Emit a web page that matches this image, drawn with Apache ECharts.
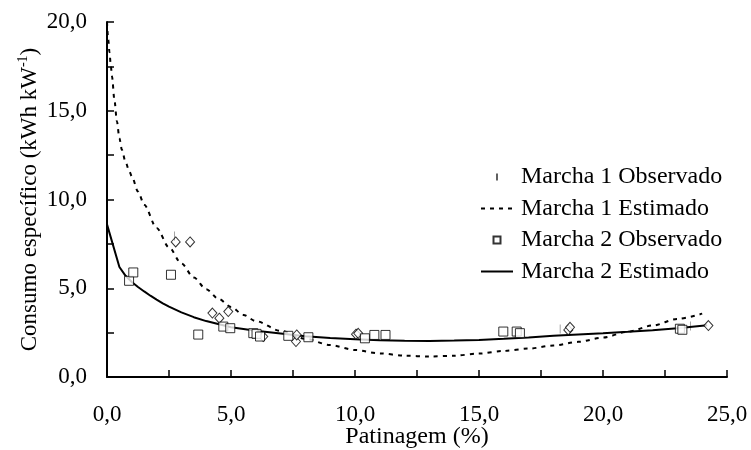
<!DOCTYPE html>
<html><head><meta charset="utf-8">
<script src="https://cdn.jsdelivr.net/npm/echarts@6/dist/echarts.min.js"></script>
<style>html,body{margin:0;padding:0;background:#fff}#c{width:751px;height:450px}</style>
</head><body><div id="c"></div>
<script>
// ---- data ----
const seriesNames = ['Marcha 1 Observado', 'Marcha 1 Estimado', 'Marcha 2 Observado', 'Marcha 2 Estimado'];
const xTickLabels = ['0,0', '5,0', '10,0', '15,0', '20,0', '25,0'];
const yTickLabels = ['0,0', '5,0', '10,0', '15,0', '20,0'];

// Marcha 1 observed: vertical-bar markers
const m1ObsBars = [[2.72, 7.95], [18.27, 2.7], [23.53, 2.88]];
// Marcha 1 observed: diamond points
const m1ObsDiamonds = [[2.77, 7.61], [3.35, 7.61], [4.25, 3.6], [4.53, 3.31], [4.89, 3.69], [6.3, 2.28],
  [7.62, 2.0], [7.65, 2.37], [10.04, 2.41], [10.13, 2.46], [18.6, 2.65], [18.67, 2.8], [24.25, 2.9]];
// Marcha 2 observed: squares
const m2Obs = [[0.89, 5.42], [1.06, 5.89], [2.58, 5.76], [3.68, 2.39], [4.69, 2.84], [4.97, 2.75], [5.9, 2.47],
  [6.03, 2.43], [6.17, 2.28], [7.31, 2.32], [8.12, 2.24], [10.4, 2.18], [10.78, 2.37], [11.23, 2.37],
  [15.98, 2.56], [16.52, 2.56], [16.65, 2.47], [23.1, 2.72], [23.2, 2.66]];
// Marcha 1 estimated (dashed)
const m1EstX = [0, 0.05, 0.1, 0.15, 0.2, 0.3, 0.4, 0.5, 0.6, 0.75, 0.9, 1, 1.25, 1.5, 2, 2.5, 3, 3.5, 4, 4.5, 5, 5.5, 6, 7, 8, 9, 10, 11, 12, 13, 14, 15, 16, 17, 18, 19, 20, 21, 22, 23, 24];
const m1EstY = [20.0, 19.0, 18.3, 17.6, 16.95, 15.6, 14.4, 13.45, 12.8, 12.1, 11.6, 11.3, 10.45, 9.7, 8.4, 7.3, 6.4, 5.6, 4.95, 4.4, 3.95, 3.5, 3.15, 2.6, 2.15, 1.8, 1.52, 1.33, 1.2, 1.15, 1.2, 1.32, 1.47, 1.6, 1.77, 1.98, 2.22, 2.55, 2.9, 3.27, 3.57];
// Marcha 2 estimated (solid)
const m2EstX = [0, 0.5, 0.75, 1, 1.25, 1.5, 1.75, 2, 2.25, 2.5, 3, 3.5, 4, 5, 6, 7, 8, 9, 10, 11, 12, 13, 14, 15, 16, 17, 18, 19, 20, 21, 22, 23, 24.2];
const m2EstY = [8.6, 6.2, 5.7, 5.35, 5.07, 4.82, 4.58, 4.36, 4.15, 3.96, 3.64, 3.37, 3.15, 2.8, 2.6, 2.45, 2.3, 2.2, 2.12, 2.07, 2.04, 2.03, 2.05, 2.09, 2.15, 2.23, 2.32, 2.4, 2.47, 2.55, 2.64, 2.74, 2.92];

const FONT = '"Liberation Serif", "Times New Roman", serif';
const FS = 23;
const zip = (xs, ys) => xs.map((x, i) => [x, ys[i]]);
const labelFor = (labels, step) => v => {
  const k = Math.round(v / step);
  return (Math.abs(v - k * step) < 1e-6 && labels[k] !== undefined) ? labels[k] : '';
};
const hiddenSymbol = {opacity: 0};

const chart = echarts.init(document.getElementById('c'), null, {renderer: 'canvas'});
chart.setOption({
  animation: false,
  backgroundColor: '#fff',
  textStyle: {fontFamily: FONT, color: '#000'},
  grid: {left: 107, right: 24, top: 22, bottom: 73, outerBoundsMode: 'none', containLabel: false},
  legend: {
    orient: 'vertical', left: 480, top: 165, itemGap: 7.5, padding: 0,
    itemWidth: 32, itemHeight: 7,
    data: [
      {name: seriesNames[0]},
      {name: seriesNames[1], itemStyle: hiddenSymbol},
      {name: seriesNames[2]},
      {name: seriesNames[3], itemStyle: hiddenSymbol}
    ],
    textStyle: {fontFamily: FONT, fontSize: 24, color: '#000', padding: [0, 0, 0, 3]}
  },
  xAxis: {
    type: 'value', min: 0, max: 25, interval: 2.5,
    axisLine: {show: true, lineStyle: {color: '#000', width: 2}},
    axisTick: {show: true, inside: true, length: 7, lineStyle: {color: '#000', width: 1.5}},
    splitLine: {show: false},
    axisLabel: {formatter: labelFor(xTickLabels, 5), color: '#000', fontFamily: FONT, fontSize: FS, margin: 26},
    name: 'Patinagem (%)', nameLocation: 'middle', nameGap: 48, nameMoveOverlap: false,
    nameTextStyle: {fontFamily: FONT, fontSize: 24, color: '#000'}
  },
  yAxis: {
    type: 'value', min: 0, max: 20, interval: 2.5,
    axisLine: {show: true, lineStyle: {color: '#000', width: 2}},
    axisTick: {show: true, inside: true, length: 7, lineStyle: {color: '#000', width: 1.5}},
    splitLine: {show: false},
    axisLabel: {formatter: labelFor(yTickLabels, 5), color: '#000', fontFamily: FONT, fontSize: FS, margin: 20},
    name: '{n|Consumo específico (kWh kW}{s|-1}{n|)}', nameLocation: 'middle', nameGap: 63, nameRotate: 90,
    nameMoveOverlap: false,
    nameTextStyle: {
      fontFamily: FONT, color: '#000',
      rich: {
        n: {fontFamily: FONT, fontSize: FS, lineHeight: 28, color: '#000'},
        s: {fontFamily: FONT, fontSize: 14, lineHeight: 28, verticalAlign: 'top', color: '#000'}
      }
    }
  },
  series: [
    {
      name: seriesNames[0], type: 'scatter', data: m1ObsBars, z: 5,
      symbol: 'path://M0,0L2,0L2,9L0,9Z', symbolSize: [2, 9], symbolKeepAspect: true,
      itemStyle: {color: '#000'}
    },
    {
      name: seriesNames[1], type: 'line', data: zip(m1EstX, m1EstY), z: 2,
      symbol: 'none', showSymbol: false, smooth: 0.3, smoothMonotone: 'x',
      lineStyle: {color: '#000', width: 2, type: [4, 5]}, itemStyle: {color: '#000'}
    },
    {
      name: seriesNames[2], type: 'scatter', data: m2Obs, z: 4,
      symbol: 'path://M0,0L10,0L10,10L0,10Z', symbolSize: 9, symbolKeepAspect: true,
      itemStyle: {color: '#fff', borderColor: '#000', borderWidth: 1}
    },
    {
      name: seriesNames[3], type: 'line', data: zip(m2EstX, m2EstY), z: 2,
      symbol: 'none', showSymbol: false, smooth: false,
      lineStyle: {color: '#000', width: 2, type: 'solid'}, itemStyle: {color: '#000'}
    },
    {
      name: 'Marcha 1 Observado (pontos)', type: 'scatter', data: m1ObsDiamonds, z: 3,
      symbol: 'diamond', symbolSize: [9, 10],
      itemStyle: {color: '#fff', borderColor: '#000', borderWidth: 1}
    }
  ]
});
</script>
</body></html>
